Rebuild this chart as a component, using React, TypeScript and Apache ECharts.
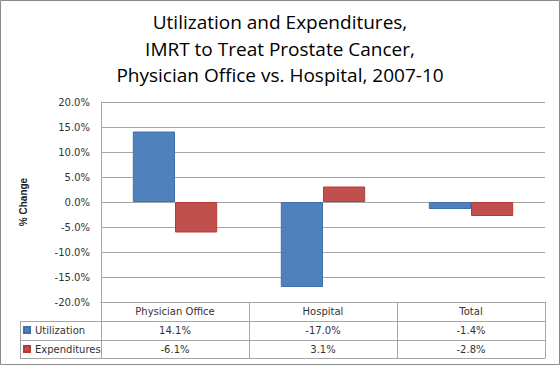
import React, { useEffect, useRef } from "react";
import * as echarts from "echarts";

const categories = ["Physician Office", "Hospital", "Total"];
const utilization = [14.1, -17.0, -1.4];
const expenditures = [-6.1, 3.1, -2.8];
const seriesNames = ["Utilization", "Expenditures"];
const yTicks = { min: -20, max: 20, interval: 5 };

const fmt = (v: number) => `${v.toFixed(1)}%`;

const GRID_LEFT = 101;
const GRID_RIGHT = 545;
const GRID_TOP = 102;
const GRID_BOTTOM = 302;
const ROW = 19;
const LINE = "#a6a6a6";
const TXT = "#333333";
const FONT = "DejaVu Sans";

export default function App() {
  const ref = useRef<HTMLDivElement>(null);
  useEffect(() => {
    if (!ref.current) return;
    const chart = echarts.init(ref.current, undefined, { renderer: "svg" });
    const tableAxis = (data: string[], offset: number, extra: any = {}) => ({
      type: "category",
      gridIndex: 0,
      position: "bottom",
      offset,
      data,
      boundaryGap: true,
      axisLine: { show: true, onZero: false, lineStyle: { color: LINE, width: 1 } },
      axisTick: { show: false },
      splitLine: { show: false },
      axisLabel: {
        interval: 0,
        margin: 3,
        fontFamily: FONT,
        fontSize: 10,
        lineHeight: 12,
        color: TXT,
      },
      ...extra,
    });
    chart.setOption({
      animation: false,
      backgroundColor: "#ffffff",
      title: {
        text: "Utilization and Expenditures,\nIMRT to Treat Prostate Cancer,\nPhysician Office vs. Hospital, 2007-10",
        left: "center",
        top: 9,
        padding: 0,
        textStyle: {
          fontFamily: "Open Sans",
          fontSize: 19,
          fontWeight: "normal",
          lineHeight: 26.5,
          color: "#000000",
        },
      },
      legend: {
        orient: "vertical",
        left: 23,
        top: GRID_BOTTOM + ROW + 3,
        padding: 0,
        itemWidth: 6,
        itemHeight: 6,
        itemGap: 7,
        icon: "rect",
        selectedMode: false,
        textStyle: { fontFamily: FONT, fontSize: 10, lineHeight: 12, color: TXT },
        data: seriesNames,
      },
      grid: {
        left: GRID_LEFT,
        right: 560 - GRID_RIGHT,
        top: GRID_TOP,
        bottom: 365 - GRID_BOTTOM,
        containLabel: false,
      },
      xAxis: [
        tableAxis(categories, 0, {
          axisTick: {
            show: true,
            interval: 0,
            alignWithLabel: false,
            length: ROW * 3 - 1,
            lineStyle: { color: LINE, width: 1 },
          },
        }),
        tableAxis(utilization.map(fmt), ROW),
        tableAxis(expenditures.map(fmt), ROW * 2),
      ],
      yAxis: {
        type: "value",
        min: yTicks.min,
        max: yTicks.max,
        interval: yTicks.interval,
        name: "% Change",
        nameLocation: "middle",
        nameRotate: 90,
        nameGap: 73,
        nameTextStyle: {
          fontFamily: "Liberation Sans",
          fontWeight: "bold",
          fontSize: 10,
          color: "#222222",
        },
        axisLine: { show: true, lineStyle: { color: LINE, width: 1 } },
        axisTick: { show: false },
        splitLine: { show: true, lineStyle: { color: LINE, width: 1 } },
        axisLabel: {
          margin: 11,
          formatter: (v: number) => fmt(v),
          fontFamily: FONT,
          fontSize: 10,
          color: TXT,
        },
      },
      series: [
        {
          name: seriesNames[0],
          type: "bar",
          xAxisIndex: 0,
          data: utilization,
          barGap: "0%",
          barCategoryGap: "43%",
          itemStyle: { color: "#4F81BD", borderColor: "#3F70AE", borderWidth: 1 },
        },
        {
          name: seriesNames[1],
          type: "bar",
          xAxisIndex: 0,
          data: expenditures,
          barGap: "0%",
          barCategoryGap: "43%",
          itemStyle: { color: "#C0504D", borderColor: "#B83A37", borderWidth: 1 },
        },
      ],
      graphic: [
        {
          type: "rect",
          silent: true,
          shape: { x: 0.5, y: 0.5, width: 559, height: 364 },
          style: { fill: "none", stroke: "#8a8a8a", lineWidth: 1 },
        },
        {
          type: "line",
          silent: true,
          shape: { x1: 20.5, y1: GRID_BOTTOM + ROW + 0.5, x2: 20.5, y2: GRID_BOTTOM + ROW * 3 - 0.5 },
          style: { stroke: LINE, lineWidth: 1 },
        },
        {
          type: "line",
          silent: true,
          shape: { x1: 20, y1: GRID_BOTTOM + ROW + 0.5, x2: GRID_LEFT, y2: GRID_BOTTOM + ROW + 0.5 },
          style: { stroke: LINE, lineWidth: 1 },
        },
        {
          type: "line",
          silent: true,
          shape: { x1: 20, y1: GRID_BOTTOM + ROW * 2 + 0.5, x2: GRID_LEFT, y2: GRID_BOTTOM + ROW * 2 + 0.5 },
          style: { stroke: LINE, lineWidth: 1 },
        },
        {
          type: "line",
          silent: true,
          shape: { x1: 20, y1: GRID_BOTTOM + ROW * 3 - 0.5, x2: GRID_RIGHT + 0.5, y2: GRID_BOTTOM + ROW * 3 - 0.5 },
          style: { stroke: LINE, lineWidth: 1 },
        },
      ],
    });
    return () => chart.dispose();
  }, []);
  return (
    <div
      ref={ref}
      style={{ position: "fixed", left: 0, top: 0, width: 560, height: 365, background: "#fff" }}
    />
  );
}
